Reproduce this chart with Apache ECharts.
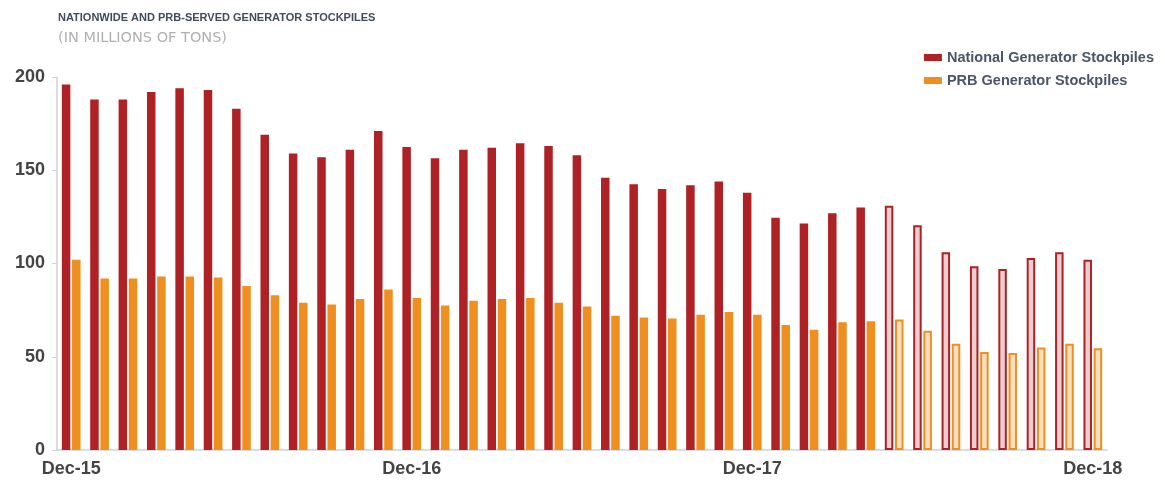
<!DOCTYPE html>
<html>
<head>
<meta charset="utf-8">
<script src="https://cdn.jsdelivr.net/npm/echarts@6/dist/echarts.min.js"></script>
<style>
  html, body { margin: 0; padding: 0; background: #fff; }
  #chart { width: 1165px; height: 487px; }
</style>
</head>
<body>
<div id="chart"></div>
<script>
var months = ['Dec-15','Jan-16','Feb-16','Mar-16','Apr-16','May-16','Jun-16','Jul-16','Aug-16','Sep-16','Oct-16','Nov-16',
  'Dec-16','Jan-17','Feb-17','Mar-17','Apr-17','May-17','Jun-17','Jul-17','Aug-17','Sep-17','Oct-17','Nov-17',
  'Dec-17','Jan-18','Feb-18','Mar-18','Apr-18','May-18','Jun-18','Jul-18','Aug-18','Sep-18','Oct-18','Nov-18','Dec-18'];
var shownLabels = ['Dec-15','Dec-16','Dec-17','Dec-18'];
var nationalStock = [196, 188, 188, 192, 194, 193, 183, 169, 159, 157, 161, 171,
  162.5, 156.5, 161, 162, 164.5, 163, 158, 146, 142.5, 140, 142, 144,
  138, 124.5, 121.5, 127, 130, 131, 120.5, 106, 98.5, 97, 103, 106, 102];
var prbStock = [102, 92, 92, 93, 93, 92.5, 88, 83, 79, 78, 81, 86,
  81.5, 77.5, 80, 81, 81.5, 79, 77, 72, 71, 70.5, 72.5, 74,
  72.5, 67, 64.5, 68.5, 69, 70, 64, 57, 52.5, 52, 55, 57, 54.5];
// months from here on are drawn as outlined (estimated) bars
var estimateFrom = 29;

var red = '#ae2125';
var orange = '#ef8f1f';

function styled(values, color, paleFill) {
  return values.map(function (v, i) {
    if (i < estimateFrom) return v;
    return {
      value: v,
      itemStyle: { color: paleFill, borderColor: color, borderWidth: 2 }
    };
  });
}

var chart = echarts.init(document.getElementById('chart'));
var option = {
  animation: false,
  backgroundColor: '#fff',
  textStyle: { fontFamily: 'Liberation Sans, Arial, sans-serif' },
  title: {
    text: 'NATIONWIDE AND PRB-SERVED GENERATOR STOCKPILES',
    subtext: '(IN MILLIONS OF TONS)',
    left: 53,
    top: 7,
    itemGap: 8,
    textStyle: { fontSize: 11, fontWeight: 'bold', color: '#3f4b5e' },
    subtextStyle: { fontSize: 14.5, color: '#b0b0b0', fontFamily: 'DejaVu Sans' }
  },
  legend: {
    orient: 'vertical',
    right: 6,
    top: 45,
    itemWidth: 18,
    itemHeight: 7,
    itemGap: 8,
    icon: 'rect',
    textStyle: { fontSize: 14.5, fontWeight: 'bold', color: '#4a5568' },
    data: ['National Generator Stockpiles', 'PRB Generator Stockpiles']
  },
  grid: { left: 57, right: 58, top: 77, bottom: 37, containLabel: false },
  xAxis: {
    type: 'category',
    data: months,
    axisLine: { lineStyle: { color: '#cfd2d6', width: 1.5 } },
    axisTick: { show: false },
    axisLabel: {
      interval: 0,
      margin: 10,
      fontSize: 18,
      fontWeight: 'bold',
      color: '#444',
      formatter: function (v) { return shownLabels.indexOf(v) >= 0 ? v : ''; }
    }
  },
  yAxis: {
    type: 'value',
    min: 0,
    max: 200,
    interval: 50,
    splitLine: { show: false },
    axisLine: { show: true, lineStyle: { color: '#cfd2d6', width: 1.5 } },
    axisTick: { show: true, length: 5, lineStyle: { color: '#cfd2d6' } },
    axisLabel: { fontSize: 18, fontWeight: 'bold', color: '#444', margin: 12 }
  },
  series: [
    {
      name: 'National Generator Stockpiles',
      type: 'bar',
      barWidth: 8.5,
      barGap: '20%',
      itemStyle: { color: red },
      data: styled(nationalStock, red, '#e9cfcf')
    },
    {
      name: 'PRB Generator Stockpiles',
      type: 'bar',
      barWidth: 8.5,
      itemStyle: { color: orange },
      data: styled(prbStock, orange, '#f7dfc2')
    }
  ]
};
chart.setOption(option);
</script>
</body>
</html>
